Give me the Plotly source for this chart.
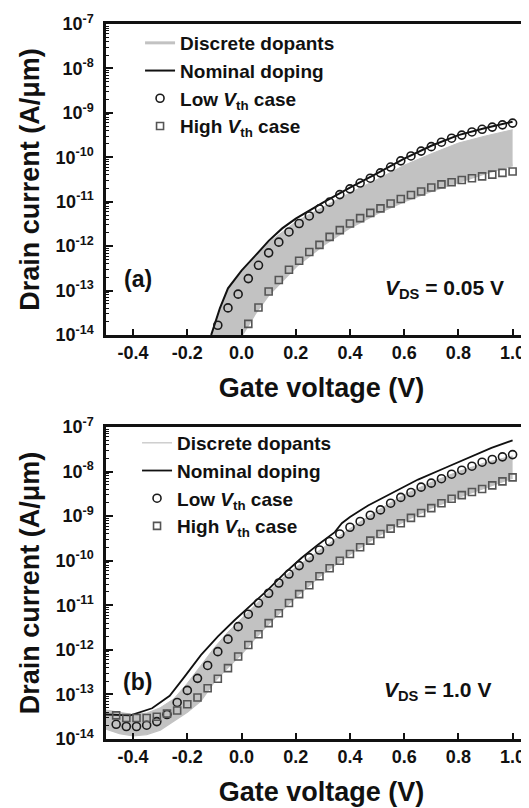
import plotly.graph_objects as go

# ---------------- data: panel (a) VDS = 0.05 V ----------------
# marker gate voltages (step 0.0375 V)
vg_a = [-0.0875 + 0.0375 * k for k in range(30)]
low_a_log = [-13.78, -13.39, -13.08, -12.73, -12.43, -12.15, -11.91, -11.68, -11.49, -11.32,
             -11.16, -11.01, -10.84, -10.71, -10.58, -10.47, -10.35, -10.22, -10.08, -9.97,
             -9.86, -9.76, -9.66, -9.57, -9.50, -9.43, -9.37, -9.32, -9.27, -9.23]
high_a_vg = vg_a[3:]
high_a_log = [-13.75, -13.38, -13.02, -12.76, -12.53, -12.33, -12.13, -11.97, -11.79, -11.64,
              -11.49, -11.37, -11.25, -11.15, -11.04, -10.94, -10.85, -10.77, -10.68, -10.61,
              -10.56, -10.51, -10.47, -10.43, -10.39, -10.35, -10.32]
nom_a_vg = [-0.112, -0.08, -0.05, 0.0, 0.05, 0.1, 0.15, 0.2, 0.3, 0.4, 0.5, 0.6, 0.7, 0.8, 0.9, 1.0]
nom_a_log = [-14.0, -13.4, -12.95, -12.55, -12.22, -11.88, -11.6, -11.38, -11.02, -10.68,
             -10.36, -10.03, -9.74, -9.5, -9.34, -9.2]
band_a_up_vg = [-0.11, -0.05, 0.0, 0.05, 0.1, 0.2, 0.3, 0.4, 0.5, 0.6, 0.7, 0.8, 0.9, 1.0]
band_a_up_log = [-14.0, -12.98, -12.6, -12.27, -11.92, -11.45, -11.12, -10.8, -10.5, -10.18,
                 -9.92, -9.68, -9.52, -9.38]
band_a_lo_vg = [0.0, 0.05, 0.1, 0.2, 0.3, 0.4, 0.5, 0.6, 0.7, 0.8, 0.9, 1.0]
band_a_lo_log = [-14.0, -13.5, -13.08, -12.45, -11.97, -11.57, -11.25, -10.98, -10.75, -10.55,
                 -10.35, -10.17]

# ---------------- data: panel (b) VDS = 1.0 V ----------------
vg_b = [-0.4625 + 0.0375 * k for k in range(40)]
low_b_log = [-13.67, -13.72, -13.72, -13.69, -13.61, -13.45, -13.18, -12.91, -12.64, -12.35,
             -12.04, -11.76, -11.48, -11.20, -10.95, -10.73, -10.50, -10.30, -10.11, -9.93,
             -9.76, -9.57, -9.40, -9.25, -9.12, -8.98, -8.86, -8.71, -8.58, -8.47,
             -8.35, -8.26, -8.16, -8.06, -7.97, -7.88, -7.79, -7.73, -7.67, -7.62]
high_b_log = [-13.47, -13.53, -13.53, -13.53, -13.50, -13.43, -13.36, -13.22, -13.07, -12.86,
              -12.65, -12.41, -12.15, -11.89, -11.65, -11.40, -11.18, -10.95, -10.75, -10.55,
              -10.35, -10.17, -10.00, -9.85, -9.70, -9.55, -9.40, -9.28, -9.16, -9.04,
              -8.93, -8.82, -8.71, -8.61, -8.53, -8.46, -8.39, -8.31, -8.22, -8.13]
nom_b_vg = [-0.5, -0.41, -0.33, -0.265, -0.21, -0.15, -0.087, -0.025, 0.036, 0.098, 0.159,
            0.221, 0.282, 0.344, 0.37, 0.4, 0.467, 0.553, 0.651, 0.75, 0.848, 0.922, 1.0]
nom_b_log = [-13.45, -13.47, -13.31, -13.03, -12.6, -12.12, -11.7, -11.33, -10.99, -10.65,
             -10.28, -9.94, -9.64, -9.36, -9.16, -9.02, -8.76, -8.48, -8.18, -7.92, -7.66,
             -7.47, -7.3]
band_b_vg = [-0.5, -0.45, -0.4, -0.35, -0.3, -0.25, -0.2, -0.15, -0.1, -0.05, 0.0, 0.05, 0.1,
             0.15, 0.2, 0.3, 0.4, 0.5, 0.6, 0.7, 0.8, 0.9, 1.0]
band_b_up_log = [-13.35, -13.4, -13.45, -13.42, -13.3, -13.1, -12.75, -12.35, -11.95, -11.6,
                 -11.3, -11.0, -10.68, -10.4, -10.15, -9.72, -9.28, -8.88, -8.52, -8.24,
                 -8.0, -7.8, -7.65]
band_b_lo_log = [-13.78, -13.88, -13.93, -13.9, -13.8, -13.6, -13.4, -13.15, -12.72, -12.4,
                 -12.1, -11.75, -11.42, -11.12, -10.82, -10.3, -9.86, -9.46, -9.12, -8.82,
                 -8.58, -8.37, -8.15]

decades = list(range(-14, -6))
tick_vals = [10.0 ** d for d in decades]
tick_text = ["10<sup>%d</sup>" % d for d in decades]
x_ticks = [-0.4, -0.2, 0.0, 0.2, 0.4, 0.6, 0.8, 1.0]
x_text = ["%.1f" % v for v in x_ticks]

names = ["Discrete dopants", "Nominal doping", "Low <i>V</i><sub>th</sub> case",
         "High <i>V</i><sub>th</sub> case"]

FONT = "Liberation Sans, Arial, sans-serif"
BAND = "#c2c2c2"


def p10(arr):
    return [10.0 ** v for v in arr]


fig = go.Figure()


def add_panel(xa, ya, leg, band_lo_x, band_lo, band_up_x, band_up, nom_x, nom, low_x, low,
              high_x, high, legline_w, nom_w):
    fig.add_trace(go.Scatter(x=band_lo_x, y=p10(band_lo), mode="lines", name=names[0],
                             line=dict(color=BAND, width=legline_w), xaxis=xa, yaxis=ya,
                             legend=leg))
    fig.add_trace(go.Scatter(x=band_up_x, y=p10(band_up), mode="lines", fill="tonexty",
                             fillcolor=BAND, line=dict(color=BAND, width=1), showlegend=False,
                             xaxis=xa, yaxis=ya, legend=leg))
    fig.add_trace(go.Scatter(x=nom_x, y=p10(nom), mode="lines", name=names[1],
                             line=dict(color="#111111", width=nom_w), xaxis=xa, yaxis=ya,
                             legend=leg))
    fig.add_trace(go.Scatter(x=low_x, y=p10(low), mode="markers", name=names[2],
                             marker=dict(symbol="circle-open", size=8, color="#1a1a1a",
                                         line=dict(width=1.6)), xaxis=xa, yaxis=ya, legend=leg))
    fig.add_trace(go.Scatter(x=high_x, y=p10(high), mode="markers", name=names[3],
                             marker=dict(symbol="square-open", size=7, color="#555555",
                                         line=dict(width=1.6)), xaxis=xa, yaxis=ya, legend=leg))


add_panel("x", "y", "legend", band_a_lo_vg, band_a_lo_log, band_a_up_vg, band_a_up_log,
          nom_a_vg, nom_a_log, vg_a, low_a_log, high_a_vg, high_a_log, 3, 2)
add_panel("x2", "y2", "legend2", band_b_vg, band_b_lo_log, band_b_vg, band_b_up_log,
          nom_b_vg, nom_b_log, vg_b, low_b_log, vg_b, high_b_log, 1.2, 1.8)

tickfont = dict(family=FONT, size=18, color="#111111", weight="bold")
titlefont = dict(family=FONT, size=27, color="#111111", weight="bold")


def xaxis(domain_anchor):
    return dict(range=[-0.5, 1.09], domain=[0, 1], anchor=domain_anchor, automargin=False,
                tickvals=x_ticks, ticktext=x_text, ticks="inside", ticklen=6, tickwidth=1.5,
                tickcolor="#111111", showline=True, linecolor="#111111", linewidth=2.5,
                mirror=True, showgrid=False, zeroline=False, tickfont=tickfont,
                ticklabelstandoff=0,
                title=dict(text="Gate voltage (V)", font=titlefont, standoff=16))


def yaxis(dom, anchor):
    return dict(type="log", range=[-14, -7], domain=dom, anchor=anchor, automargin=False,
                tickvals=tick_vals, ticktext=tick_text, ticks="inside", ticklen=7,
                tickwidth=1.5, tickcolor="#111111", showline=True, linecolor="#111111",
                linewidth=2.5, showgrid=False, zeroline=False, tickfont=tickfont,
                ticklabelstandoff=6,
                minor=dict(ticks="inside", ticklen=3.5, tickwidth=1, tickcolor="#111111",
                           dtick="D1", showgrid=False),
                title=dict(text="Drain current (A/\u03bcm)", font=titlefont, standoff=8))


legfont = dict(family=FONT, size=19, color="#111111", weight="bold")

fig.update_layout(
    width=529, height=808,
    margin=dict(l=98, r=0, t=16, b=77),
    paper_bgcolor="white", plot_bgcolor="white",
    xaxis=xaxis("y"),
    yaxis=yaxis([0.565, 1.0], "x"),
    xaxis2=xaxis("y2"),
    yaxis2=yaxis([0.0, 0.4364], "x2"),
    legend=dict(x=0.079, y=1.0, xanchor="left", yanchor="top", font=legfont,
                bgcolor="rgba(0,0,0,0)", tracegroupgap=0, itemsizing="trace",
                traceorder="normal"),
    legend2=dict(x=0.072, y=0.4406, xanchor="left", yanchor="top", font=legfont,
                 bgcolor="rgba(0,0,0,0)", tracegroupgap=0, itemsizing="trace",
                 traceorder="normal"),
    showlegend=True,
    annotations=[
        dict(x=-0.382, y=-12.74, xref="x", yref="y", text="(a)", showarrow=False,
             font=dict(family=FONT, size=23, color="#111111", weight="bold")),
        dict(x=0.976, y=-12.96, xref="x", yref="y", xanchor="right",
             text="<i>V</i><sub>DS</sub> = 0.05 V", showarrow=False,
             font=dict(family=FONT, size=21, color="#111111", weight="bold")),
        dict(x=-0.382, y=-12.73, xref="x2", yref="y2", text="(b)", showarrow=False,
             font=dict(family=FONT, size=23, color="#111111", weight="bold")),
        dict(x=0.928, y=-12.93, xref="x2", yref="y2", xanchor="right",
             text="<i>V</i><sub>DS</sub> = 1.0 V", showarrow=False,
             font=dict(family=FONT, size=21, color="#111111", weight="bold")),
    ],
)

fig.write_html("out.html")
